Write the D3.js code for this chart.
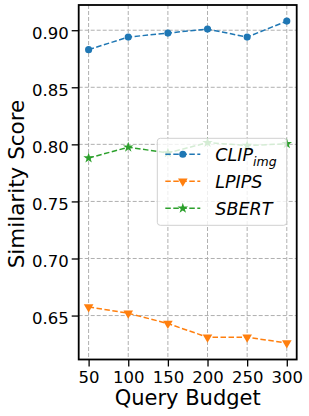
<!DOCTYPE html>
<html>
<head>
<meta charset="utf-8">
<script src="https://cdn.jsdelivr.net/npm/d3@7"></script>
<style>
  body { margin: 0; background: #fff; }
  svg { display: block; font-family: "DejaVu Sans", sans-serif; }
</style>
</head>
<body>
<svg id="chart" width="309" height="416"></svg>
<script>
// data
const budgets = [50, 100, 150, 200, 250, 300];
const clipImg = [0.883, 0.894, 0.8975, 0.901, 0.894, 0.908];
const lpips = [0.6575, 0.652, 0.643, 0.631, 0.631, 0.626];
const sbert = [0.788, 0.7975, 0.7925, 0.8015, 0.799, 0.8005];
const yTicks = [0.65, 0.70, 0.75, 0.80, 0.85, 0.90];

const series = [
  {name: 'CLIP', sub: 'img', values: clipImg, color: '#1f77b4', marker: 'circle'},
  {name: 'LPIPS', sub: null, values: lpips, color: '#ff7f0e', marker: 'tri'},
  {name: 'SBERT', sub: null, values: sbert, color: '#2ca02c', marker: 'star'}
];

const margin = {top: 5, left: 78.7, right: 12.3, bottom: 56.5};
const W = 309, H = 416;

const svg = d3.select('#chart');

let x = d3.scaleLinear().domain([37.5, 312.5]).range([margin.left, W - margin.right]);
let y = d3.scaleLinear().domain([0.6115, 0.9221]).range([H - margin.bottom, margin.top]);

// grid
let grid = svg.append('g');
grid.selectAll('.gx').data(budgets).enter().append('line')
  .attr('x1', d => x(d)).attr('x2', d => x(d))
  .attr('y1', margin.top).attr('y2', H - margin.bottom)
  .attr('stroke', '#b0b0b0').attr('stroke-width', 1).attr('stroke-dasharray', '4,2');
grid.selectAll('.gy').data(yTicks).enter().append('line')
  .attr('x1', margin.left).attr('x2', W - margin.right)
  .attr('y1', d => y(d)).attr('y2', d => y(d))
  .attr('stroke', '#b0b0b0').attr('stroke-width', 1).attr('stroke-dasharray', '4,2');

function markerPath(type) {
  if (type == 'circle') return d3.symbol().type(d3.symbolCircle).size(40)();
  if (type == 'tri') return d3.symbol().type(d3.symbolTriangle).size(40)();
  return d3.symbol().type(d3.symbolStar).size(34)();
}

// lines
series.forEach((s) => {
  let g = svg.append('g');
  g.append('path')
    .datum(s.values)
    .attr('fill', 'none')
    .attr('stroke', s.color)
    .attr('stroke-width', 1.5)
    .attr('stroke-dasharray', '5.5,2.5')
    .attr('d', d3.line()
      .x((d, i) => x(budgets[i]))
      .y((d) => y(d)));
  g.selectAll('path.m').data(s.values).enter().append('path')
    .attr('class', 'm')
    .attr('d', markerPath(s.marker))
    .attr('fill', s.color)
    .attr('transform', (d, i) => 'translate(' + x(budgets[i]) + ',' + y(d) + ')' + (s.marker == 'tri' ? ' rotate(180)' : ''));
});

// axes
let ax = svg.append('g')
  .attr('transform', 'translate(0,' + (H - margin.bottom) + ')')
  .call(d3.axisBottom(x).tickValues(budgets).tickSize(7));
let ay = svg.append('g')
  .attr('transform', 'translate(' + margin.left + ',0)')
  .call(d3.axisLeft(y).tickValues(yTicks).tickFormat(d3.format('.2f')).tickSize(7).tickPadding(3));
[ax, ay].forEach((a) => {
  a.select('.domain').remove();
  a.selectAll('line').attr('stroke', '#000').attr('stroke-width', 1.3);
  a.selectAll('text').attr('fill', '#000').style('font-size', '16.5px').style('font-family', 'DejaVu Sans');
});
ax.selectAll('text').attr('y', 23.5).attr('dy', 0);
ay.selectAll('text').attr('dy', '0.5em');

// frame
svg.append('rect')
  .attr('x', margin.left).attr('y', margin.top)
  .attr('width', W - margin.left - margin.right)
  .attr('height', H - margin.top - margin.bottom)
  .attr('fill', 'none').attr('stroke', '#000').attr('stroke-width', 1.8);

// axis labels
svg.append('text')
  .attr('x', (margin.left + W - margin.right) / 2).attr('y', 405)
  .attr('text-anchor', 'middle').style('font-size', '21px')
  .text('Query Budget');
svg.append('text')
  .attr('transform', 'translate(24,184) rotate(-90)')
  .attr('text-anchor', 'middle').style('font-size', '21.5px')
  .text('Similarity Score');

// legend
let lg = svg.append('g').attr('transform', 'translate(157.3,138.3)');
lg.append('rect')
  .attr('width', 129.4).attr('height', 87)
  .attr('rx', 3)
  .attr('fill', '#fff').attr('fill-opacity', 0.8)
  .attr('stroke', '#d0d0d0').attr('stroke-width', 1);
series.forEach((s, i) => {
  let row = lg.append('g').attr('transform', 'translate(0,' + (16 + i * 27) + ')');
  row.append('line')
    .attr('x1', 8).attr('x2', 43)
    .attr('stroke', s.color).attr('stroke-width', 1.5)
    .attr('stroke-dasharray', '5.5,2.5');
  row.append('path')
    .attr('d', markerPath(s.marker))
    .attr('fill', s.color)
    .attr('transform', 'translate(25.5,0)' + (s.marker == 'tri' ? ' rotate(180)' : ''));
  let t = row.append('text')
    .attr('x', 58).attr('y', 6.5)
    .style('font-size', '17.5px').style('font-style', 'italic');
  t.append('tspan').text(s.name);
  if (s.sub) {
    t.append('tspan').attr('dy', 5).style('font-size', '12.5px').text(s.sub);
  }
});
</script>
</body>
</html>
